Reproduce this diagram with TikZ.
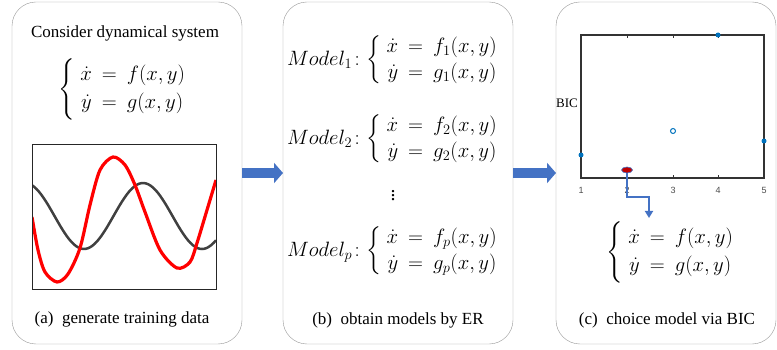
\documentclass[tikz,border=0pt]{standalone}
\usepackage{amsmath}
\usepackage{amssymb}
\usepackage{fontspec}
\setmainfont{Liberation Serif}
\setsansfont{Liberation Sans}
\usetikzlibrary{arrows.meta, shapes.geometric, positioning, calc}

\definecolor{arrowblue}{RGB}{68,114,196}
\definecolor{dotblue}{RGB}{0,114,189}
\definecolor{boxgray}{RGB}{150,150,150}

\newcommand{\dynsys}[2]{\left\{\begin{array}{rcl} \dot x &=& #1(x,y)\\ \dot y &=& #2(x,y)\end{array}\right.}
\renewcommand{\arraystretch}{1.2}

\tikzset{
    panel/.style={draw=boxgray, rounded corners=24pt, minimum height=342pt, outer sep=0pt, inner sep=0pt},
    bigarrow/.style={arrowblue, line width=10pt, -{Triangle[width=20pt,length=9pt]}},
    captext/.style={font=\fontsize{17}{20}\selectfont},
    eqtext/.style={font=\fontsize{20.5}{23}\selectfont},
    modeltext/.style={font=\fontsize{20}{22}\selectfont},
    axisbox/.style={draw=black!80, line width=1.5pt},
    ticklabel/.style={font=\sffamily\fontsize{9}{10}\selectfont, text=black!70},
    bicdot/.style={circle, fill=dotblue, inner sep=0pt, minimum size=5pt},
}

\begin{document}
\begin{tikzpicture}[x=1pt,y=-1pt]
    \useasboundingbox (0,0) rectangle (777,350);

    \node[panel, minimum width=230pt] (pa) at (127,173) {};
    \node[panel, minimum width=230pt] (pb) at (398,173) {};
    \node[panel, minimum width=220pt] (pc) at (666,173) {};

    \draw[bigarrow] (pa.east) -- (pb.west);
    \draw[bigarrow] (pb.east) -- (pc.west);

    % (a)
    \node[captext] (title) at (125,33) {Consider dynamical system};
    \node[eqtext] (eqa) at (125,89) {$\dynsys{f}{g}$};
    \begin{scope}
        \clip (32,144) rectangle (216,289);
        \draw[black!75, line width=2.5pt, smooth, domain=32:216, samples=80] plot (\x,{216-33*cos((\x-25)/118*360)});
        \draw[red, line width=3.2pt, smooth] plot coordinates {(32,217) (38,250) (45,272) (57,282) (68,274) (80,248) (90,205) (100,170) (113,157) (125,165) (135,185) (145,212) (160,250) (177,268) (190,262) (197,243) (207,210) (216,180)};
    \end{scope}
    \draw[black!85, line width=0.8pt] (32,144) rectangle (216,289);
    \node[captext] (capa) at (122,319) {(a)\enspace generate training data};

    % (b)
    \node[modeltext] (mod1) at (395,60) {$Model_1\colon\!\dynsys{f_1}{g_1}$};
    \node[modeltext] (mod2) at (395,139) {$Model_2\colon\!\dynsys{f_2}{g_2}$};
    \node[modeltext] (vdots) at (393,193) {$\vdots$};
    \node[modeltext] (modp) at (395,251) {$Model_p\colon\!\dynsys{f_p}{g_p}$};
    \node[captext] (capb) at (398,320) {(b)\enspace obtain models by ER};

    % (c)
    \draw[axisbox] (581,35) rectangle (764,178);
    \foreach \t in {627,673,718} {
        \draw[black!80, line width=1pt] (\t,35) -- (\t,38);
        \draw[black!80, line width=1pt] (\t,178) -- (\t,175);
    }
    \foreach \i/\t in {1/581,2/627,3/673,4/718,5/764}
        \node[ticklabel] (tk\i) at (\t,190) {\i};
    \node[font=\fontsize{13}{15}\selectfont] (bic) at (567,103) {BIC};
    \node[bicdot] (m1) at (581,155) {};
    \node[bicdot] (m4) at (718,35) {};
    \node[bicdot] (m5) at (764,141) {};
    \node[circle, draw=dotblue, fill=white, line width=1pt, inner sep=0pt, minimum size=5pt] (m3) at (673,131) {};
    \node[ellipse, fill=red!75!black, draw=arrowblue, line width=0.6pt, inner sep=0pt, minimum width=11pt, minimum height=6pt] (m2) at (627,170) {};
    \coordinate (tipc) at (649,218);
    \draw[arrowblue, line width=1.8pt, -{Triangle[width=8pt,length=7pt]}] (m2.south) -- ++(0,24) -| (tipc);
    \node[eqtext] (eqc) at (673,252) {$\dynsys{f}{g}$};
    \node[captext] (capc) at (667,320) {(c)\enspace choice model via BIC};
\end{tikzpicture}
\end{document}
